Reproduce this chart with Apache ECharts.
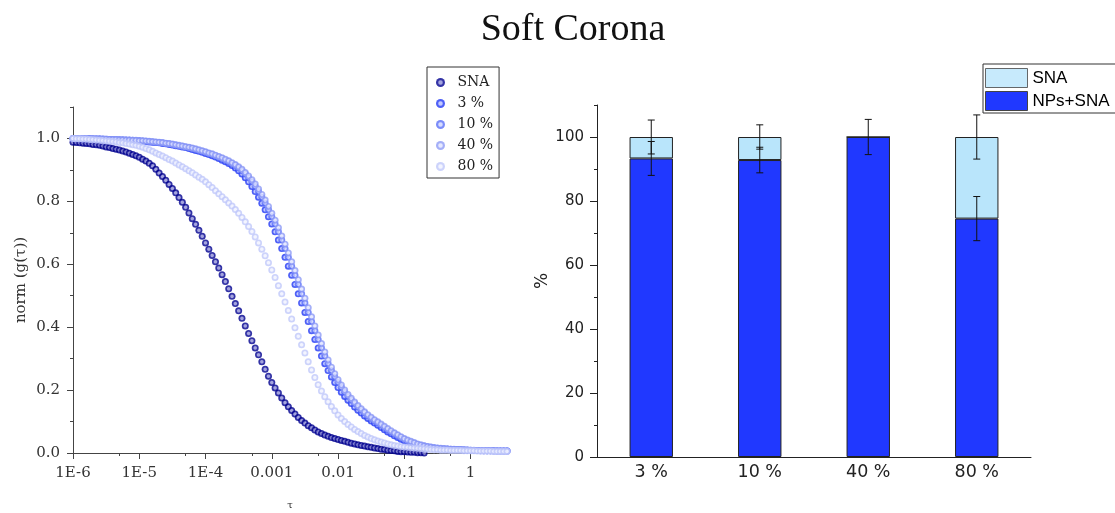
<!DOCTYPE html>
<html>
<head>
<meta charset="utf-8">
<title>Soft Corona</title>
<script src="https://cdn.jsdelivr.net/npm/echarts@6/dist/echarts.min.js"></script>
<style>
  html, body { margin: 0; padding: 0; background: #fff; }
  #chart { width: 1115px; height: 513px; }
</style>
</head>
<body>
<div id="chart"></div>
<script>
// Lag times τ (s) of the correlator channels
const tau = [
  1e-6,1.122e-6,1.259e-6,1.413e-6,1.585e-6,1.778e-6,1.995e-6,2.239e-6,2.512e-6,2.818e-6,
  3.162e-6,3.548e-6,3.981e-6,4.467e-6,5.012e-6,5.623e-6,6.31e-6,7.079e-6,7.943e-6,8.913e-6,
  1e-5,1.122e-5,1.259e-5,1.413e-5,1.585e-5,1.778e-5,1.995e-5,2.239e-5,2.512e-5,2.818e-5,
  3.162e-5,3.548e-5,3.981e-5,4.467e-5,5.012e-5,5.623e-5,6.31e-5,7.079e-5,7.943e-5,8.913e-5,
  1e-4,1.122e-4,1.259e-4,1.413e-4,1.585e-4,1.778e-4,1.995e-4,2.239e-4,2.512e-4,2.818e-4,
  3.162e-4,3.548e-4,3.981e-4,4.467e-4,5.012e-4,5.623e-4,6.31e-4,7.079e-4,7.943e-4,8.913e-4,
  1e-3,1.122e-3,1.259e-3,1.413e-3,1.585e-3,1.778e-3,1.995e-3,2.239e-3,2.512e-3,2.818e-3,
  3.162e-3,3.548e-3,3.981e-3,4.467e-3,5.012e-3,5.623e-3,6.31e-3,7.079e-3,7.943e-3,8.913e-3,
  1e-2,1.122e-2,1.259e-2,1.413e-2,1.585e-2,1.778e-2,1.995e-2,2.239e-2,2.512e-2,2.818e-2,
  3.162e-2,3.548e-2,3.981e-2,4.467e-2,5.012e-2,5.623e-2,6.31e-2,7.079e-2,7.943e-2,8.913e-2,
  0.1,0.1122,0.1259,0.1413,0.1585,0.1778,0.1995,0.2239,0.2512,0.2818,
  0.3162,0.3548,0.3981,0.4467,0.5012,0.5623,0.631,0.7079,0.7943,0.8913,
  1,1.122,1.259,1.413,1.585,1.778,1.995,2.239,2.512,2.818,
  3.162,3.548
];

// Normalised correlation functions norm(g(τ))
const gSNA = [
  0.988,0.987,0.986,0.985,0.984,0.983,0.981,0.980,0.978,0.976,
  0.973,0.971,0.968,0.966,0.963,0.960,0.957,0.953,0.949,0.945,
  0.940,0.934,0.928,0.921,0.913,0.902,0.890,0.879,0.867,0.854,
  0.841,0.827,0.812,0.797,0.781,0.763,0.745,0.727,0.708,0.689,
  0.668,0.648,0.628,0.608,0.588,0.567,0.545,0.522,0.498,0.475,
  0.452,0.428,0.404,0.380,0.357,0.334,0.312,0.290,0.266,0.244,
  0.224,0.207,0.191,0.175,0.160,0.147,0.135,0.124,0.113,0.103,
  0.095,0.087,0.080,0.073,0.067,0.062,0.057,0.053,0.049,0.046,
  0.043,0.040,0.037,0.034,0.031,0.029,0.026,0.024,0.022,0.020,
  0.018,0.016,0.014,0.012,0.011,0.009,0.008,0.007,0.005,0.004,
  0.004,0.003,0.002,0.002,0.001,0.001,0.000
];
const g3 = [
  1.000,1.000,0.999,0.999,0.999,0.999,0.998,0.998,0.998,0.997,
  0.997,0.997,0.996,0.996,0.995,0.995,0.994,0.994,0.993,0.993,
  0.992,0.991,0.990,0.989,0.988,0.987,0.986,0.984,0.983,0.981,
  0.979,0.977,0.975,0.973,0.971,0.968,0.965,0.962,0.959,0.956,
  0.952,0.949,0.945,0.941,0.936,0.931,0.926,0.920,0.914,0.906,
  0.897,0.887,0.875,0.862,0.847,0.831,0.813,0.794,0.773,0.751,
  0.728,0.703,0.677,0.650,0.622,0.594,0.565,0.536,0.506,0.477,
  0.447,0.418,0.389,0.361,0.334,0.308,0.284,0.262,0.242,0.224,
  0.208,0.193,0.180,0.168,0.157,0.146,0.136,0.127,0.118,0.110,
  0.102,0.095,0.088,0.081,0.074,0.067,0.061,0.055,0.049,0.044,
  0.039,0.035,0.031,0.027,0.024,0.022,0.020,0.018,0.017,0.015,
  0.014,0.013,0.013,0.012,0.011,0.011,0.010,0.010,0.009,0.009,
  0.008,0.008,0.008,0.007,0.007,0.007,0.007,0.006,0.006,0.006,
  0.006,0.006
];
const g10 = [
  1.000,1.000,1.000,0.999,0.999,0.999,0.999,0.998,0.998,0.998,
  0.997,0.997,0.997,0.996,0.996,0.995,0.995,0.994,0.994,0.993,
  0.993,0.992,0.991,0.990,0.989,0.988,0.987,0.986,0.984,0.983,
  0.981,0.979,0.977,0.975,0.973,0.971,0.968,0.965,0.962,0.959,
  0.956,0.952,0.949,0.945,0.941,0.936,0.931,0.926,0.920,0.914,
  0.906,0.897,0.887,0.875,0.862,0.847,0.831,0.813,0.794,0.773,
  0.751,0.728,0.703,0.677,0.650,0.622,0.594,0.565,0.536,0.506,
  0.477,0.447,0.418,0.389,0.361,0.334,0.308,0.284,0.262,0.242,
  0.224,0.208,0.193,0.180,0.168,0.157,0.146,0.136,0.127,0.118,
  0.110,0.102,0.095,0.088,0.081,0.074,0.067,0.061,0.055,0.049,
  0.044,0.039,0.035,0.031,0.027,0.024,0.022,0.020,0.018,0.017,
  0.015,0.014,0.013,0.013,0.012,0.011,0.011,0.010,0.010,0.009,
  0.009,0.008,0.008,0.008,0.007,0.007,0.007,0.007,0.006,0.006,
  0.006,0.006
];
const g40 = [
  1.000,1.000,1.000,1.000,0.999,0.999,0.999,0.999,0.998,0.998,
  0.998,0.997,0.997,0.997,0.996,0.996,0.995,0.995,0.994,0.994,
  0.993,0.993,0.992,0.991,0.990,0.989,0.988,0.987,0.985,0.984,
  0.982,0.980,0.978,0.976,0.974,0.972,0.970,0.967,0.964,0.961,
  0.958,0.954,0.951,0.947,0.943,0.939,0.934,0.929,0.923,0.917,
  0.910,0.902,0.892,0.881,0.869,0.855,0.839,0.822,0.804,0.784,
  0.762,0.740,0.716,0.690,0.664,0.636,0.608,0.580,0.551,0.521,
  0.492,0.462,0.433,0.404,0.375,0.348,0.321,0.296,0.273,0.252,
  0.233,0.216,0.200,0.186,0.174,0.162,0.151,0.141,0.131,0.122,
  0.114,0.106,0.099,0.092,0.085,0.078,0.071,0.064,0.058,0.052,
  0.046,0.041,0.037,0.033,0.029,0.026,0.023,0.021,0.019,0.017,
  0.016,0.015,0.014,0.013,0.012,0.012,0.011,0.011,0.010,0.010,
  0.009,0.009,0.008,0.008,0.008,0.007,0.007,0.007,0.007,0.006,
  0.006,0.006
];
const g80 = [
  1.000,0.999,0.999,0.998,0.998,0.997,0.996,0.995,0.994,0.993,
  0.992,0.991,0.990,0.989,0.987,0.986,0.984,0.982,0.980,0.978,
  0.975,0.972,0.968,0.964,0.959,0.954,0.949,0.944,0.939,0.933,
  0.928,0.922,0.916,0.910,0.904,0.897,0.891,0.884,0.877,0.870,
  0.862,0.853,0.844,0.834,0.824,0.815,0.805,0.795,0.785,0.774,
  0.762,0.749,0.735,0.720,0.704,0.687,0.668,0.648,0.627,0.605,
  0.582,0.558,0.532,0.506,0.480,0.453,0.426,0.398,0.371,0.344,
  0.318,0.290,0.264,0.240,0.217,0.197,0.179,0.163,0.148,0.134,
  0.121,0.110,0.100,0.091,0.083,0.075,0.068,0.062,0.056,0.051,
  0.046,0.042,0.038,0.035,0.032,0.029,0.026,0.024,0.022,0.020,
  0.019,0.018,0.017,0.016,0.015,0.014,0.013,0.012,0.011,0.010,
  0.010,0.009,0.009,0.009,0.008,0.008,0.008,0.008,0.007,0.007,
  0.007,0.007,0.006,0.006,0.006,0.006,0.006,0.005,0.005,0.005,
  0.005,0.005
];

const curveNames = ['SNA', '3 %', '10 %', '40 %', '80 %'];
const curveValues = [gSNA, g3, g10, g40, g80];

// Tick positions and labels
const xTickValues = [1e-6, 1e-5, 1e-4, 1e-3, 1e-2, 0.1, 1];
const xTickLabels = ['1E-6', '1E-5', '1E-4', '0.001', '0.01', '0.1', '1'];
const xMinorValues = [5e-6, 5e-5, 5e-4, 5e-3, 5e-2, 0.5];
const yTickValues = [0, 0.2, 0.4, 0.6, 0.8, 1.0];
const yMinorValues = [0.1, 0.3, 0.5, 0.7, 0.9, 1.1];

// Composition bars
const categories = ['3 %', '10 %', '40 %', '80 %'];
const npsSna = [93.3, 92.8, 100, 74.5];
const sna = [6.7, 7.2, 0, 25.5];
const npsSnaErr = [5.3, 4.0, 5.5, 6.9];
const snaErr = [5.3, 3.8, 0, 6.9];
const pctTickValues = [0, 20, 40, 60, 80, 100];
const pctMinorValues = [10, 30, 50, 70, 90, 110];

// Styling
const ballColors = [
  ['#00008f', '#8e8ed6'],
  ['#2238f4', '#b4bcff'],
  ['#5a6ff8', '#cdd4ff'],
  ['#8e9bf6', '#e0e4ff'],
  ['#c0c8fa', '#f0f2ff']
];
const colNps = '#2038ff';
const colSna = '#b9e5fb';
const axisCol = '#444';
const serif = "'DejaVu Serif', 'Liberation Serif', serif";
const sans = "'DejaVu Sans', Verdana, sans-serif";

function ball(c) {
  return new echarts.graphic.RadialGradient(0.5, 0.5, 0.5, [
    { offset: 0, color: c[1] },
    { offset: 0.35, color: c[1] },
    { offset: 0.65, color: c[0] },
    { offset: 1, color: c[0] }
  ]);
}

function xLabel(v) {
  for (let i = 0; i < xTickValues.length; i++) {
    if (Math.abs(Math.log10(v) - Math.log10(xTickValues[i])) < 1e-6) return xTickLabels[i];
  }
  return '';
}

const scatterSeries = curveNames.map((name, s) => ({
  name: name,
  type: 'scatter',
  xAxisIndex: 0,
  yAxisIndex: 0,
  symbol: 'circle',
  symbolSize: 7,
  itemStyle: { color: ball(ballColors[s]) },
  emphasis: { disabled: true },
  data: curveValues[s].map((g, i) => [tau[i], g])
}));

function errorBarItem(params, api) {
  const cat = api.value(0);
  const mid = api.value(1);
  const err = api.value(2);
  const top = api.coord([cat, mid + err]);
  const bot = api.coord([cat, mid - err]);
  const hw = 3.5;
  const st = { stroke: '#111', lineWidth: 1 };
  return {
    type: 'group',
    children: [
      { type: 'line', shape: { x1: top[0], y1: top[1], x2: bot[0], y2: bot[1] }, style: st },
      { type: 'line', shape: { x1: top[0] - hw, y1: top[1], x2: top[0] + hw, y2: top[1] }, style: st },
      { type: 'line', shape: { x1: bot[0] - hw, y1: bot[1], x2: bot[0] + hw, y2: bot[1] }, style: st }
    ]
  };
}

const errData = [];
categories.forEach((c, i) => {
  if (npsSnaErr[i] > 0) errData.push([i, npsSna[i], npsSnaErr[i]]);
  if (snaErr[i] > 0) errData.push([i, npsSna[i] + sna[i], snaErr[i]]);
});

const chart = echarts.init(document.getElementById('chart'), null, { renderer: 'canvas' });

chart.setOption({
  animation: false,
  backgroundColor: '#fff',
  title: {
    text: 'Soft Corona',
    left: 568,
    top: 6,
    textAlign: 'center',
    textStyle: { fontFamily: "'Liberation Serif', serif", fontSize: 38, fontWeight: 'normal', color: '#111' }
  },
  legend: [
    {
      orient: 'vertical',
      left: 427,
      top: 67,
      selectedMode: false,
      data: curveNames,
      icon: 'circle',
      itemWidth: 24,
      itemHeight: 9,
      itemGap: 0,
      padding: [5, 6, 1, 9],
      borderColor: '#333',
      borderWidth: 1,
      textStyle: { fontFamily: serif, fontSize: 14, color: '#222', lineHeight: 21 }
    },
    {
      orient: 'vertical',
      left: 983,
      top: 64,
      selectedMode: false,
      data: [
        { name: 'SNA', icon: 'rect', itemStyle: { color: colSna, borderColor: '#444', borderWidth: 1 } },
        { name: 'NPs+SNA', icon: 'rect', itemStyle: { color: colNps, borderColor: '#444', borderWidth: 1 } }
      ],
      itemWidth: 42,
      itemHeight: 19,
      itemGap: 3,
      padding: [4, 40, 2, 2],
      borderColor: '#333',
      borderWidth: 1,
      textStyle: { fontFamily: "'Liberation Sans', Arial, sans-serif", fontSize: 17, color: '#000' }
    }
  ],
  grid: [
    { left: 73, right: 608, top: 107, bottom: 60, containLabel: false, outerBoundsMode: 'none' },
    { left: 597, right: 84, top: 105, bottom: 56, containLabel: false, outerBoundsMode: 'none' }
  ],
  xAxis: [
    {
      gridIndex: 0,
      type: 'log',
      logBase: 10,
      min: 1e-6,
      max: 3.548,
      name: 'τ',
      nameLocation: 'middle',
      nameGap: 47,
      nameTextStyle: { fontFamily: serif, fontSize: 10, color: '#333' },
      axisLine: { show: true, lineStyle: { color: axisCol, width: 1 } },
      axisTick: { show: true, length: 6, customValues: xTickValues, lineStyle: { color: axisCol } },
      axisLabel: { customValues: xTickValues, formatter: xLabel, margin: 13, fontFamily: serif, fontSize: 15, color: '#333' },
      splitLine: { show: false },
      minorTick: { show: false }
    },
    {
      gridIndex: 0,
      type: 'log',
      logBase: 10,
      min: 1e-6,
      max: 3.548,
      position: 'bottom',
      offset: 0,
      axisLine: { show: false },
      axisTick: { show: true, length: 3, customValues: xMinorValues, lineStyle: { color: axisCol } },
      axisLabel: { show: false },
      splitLine: { show: false }
    },
    {
      gridIndex: 1,
      type: 'category',
      data: categories,
      axisLine: { show: true, lineStyle: { color: '#222', width: 1 } },
      axisTick: { show: false },
      axisLabel: { margin: 6, fontFamily: sans, fontSize: 17.5, color: '#222' },
      splitLine: { show: false }
    }
  ],
  yAxis: [
    {
      gridIndex: 0,
      type: 'value',
      min: 0,
      max: 1.1,
      name: 'norm (g(τ))',
      nameLocation: 'middle',
      nameGap: 44,
      nameTextStyle: { fontFamily: serif, fontSize: 15, color: '#333' },
      axisLine: { show: true, lineStyle: { color: axisCol, width: 1 } },
      axisTick: { show: true, length: 6, customValues: yTickValues, lineStyle: { color: axisCol } },
      axisLabel: { customValues: yTickValues, formatter: v => v.toFixed(1), margin: 13, fontFamily: serif, fontSize: 15, color: '#333' },
      splitLine: { show: false }
    },
    {
      gridIndex: 0,
      type: 'value',
      min: 0,
      max: 1.1,
      position: 'left',
      offset: 0,
      axisLine: { show: false },
      axisTick: { show: true, length: 3, customValues: yMinorValues, lineStyle: { color: axisCol } },
      axisLabel: { show: false },
      splitLine: { show: false }
    },
    {
      gridIndex: 1,
      type: 'value',
      min: 0,
      max: 110,
      name: '%',
      nameLocation: 'middle',
      nameGap: 45,
      nameTextStyle: { fontFamily: sans, fontSize: 17, color: '#222' },
      axisLine: { show: true, lineStyle: { color: '#222', width: 1 } },
      axisTick: { show: true, length: 7, customValues: pctTickValues, lineStyle: { color: '#222' } },
      axisLabel: { customValues: pctTickValues, margin: 13, fontFamily: sans, fontSize: 15, color: '#222' },
      splitLine: { show: false }
    },
    {
      gridIndex: 1,
      type: 'value',
      min: 0,
      max: 110,
      position: 'left',
      offset: 0,
      axisLine: { show: false },
      axisTick: { show: true, length: 3, customValues: pctMinorValues, lineStyle: { color: '#222' } },
      axisLabel: { show: false },
      splitLine: { show: false }
    }
  ],
  series: scatterSeries.concat([
    {
      name: 'NPs+SNA',
      type: 'bar',
      xAxisIndex: 2,
      yAxisIndex: 2,
      stack: 'composition',
      barWidth: '40%',
      itemStyle: { color: colNps, borderColor: '#222', borderWidth: 1 },
      emphasis: { disabled: true },
      data: npsSna
    },
    {
      name: 'SNA',
      type: 'bar',
      xAxisIndex: 2,
      yAxisIndex: 2,
      stack: 'composition',
      barWidth: '40%',
      itemStyle: { color: colSna, borderColor: '#222', borderWidth: 1 },
      emphasis: { disabled: true },
      data: sna
    },
    {
      name: 'error',
      type: 'custom',
      xAxisIndex: 2,
      yAxisIndex: 2,
      silent: true,
      z: 5,
      renderItem: errorBarItem,
      encode: { x: 0, y: 1 },
      data: errData
    }
  ])
});
</script>
</body>
</html>
